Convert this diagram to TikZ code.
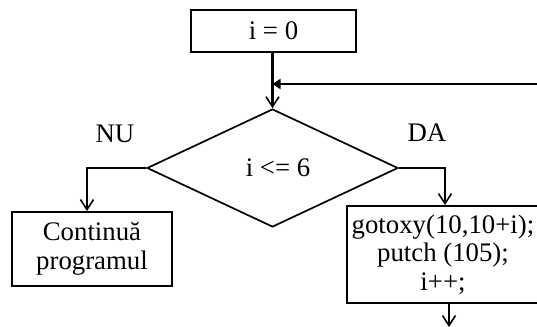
\documentclass[tikz,border=0pt]{standalone}
\usepackage{fontspec}
\setmainfont{Liberation Serif}
\usetikzlibrary{arrows.meta,shapes.geometric}
\begin{document}
\begin{tikzpicture}[x=0.5pt,y=-0.5pt,
  every node/.style={font=\fontsize{13.4}{14.3}\selectfont, inner sep=0pt},
  box/.style={draw, line width=1pt, rectangle, align=center},
  decision/.style={draw, line width=0.85pt, diamond, minimum width=125.5pt, minimum height=59pt},
  flow/.style={line width=1.2pt, -{Straight Barb[length=5pt,width=6.5pt,line width=0.8pt]}},
  back/.style={line width=1.2pt, -{Triangle[length=4pt,width=5pt]}},
  lbl/.style={}]
  \useasboundingbox (0,0) rectangle (537,327);
  \clip (0,0) rectangle (537,327);

  % blocks of the loop
  \node[box, minimum width=82.5pt, minimum height=21pt] (init) at (273.5,31) {i = 0};
  \node[decision] (cond) at (272.5,168) {};
  \node (condtext) at (278,168) {i <= 6};
  \node[box, minimum width=80pt, minimum height=37pt] (done) at (92,249) {Continuă\\programul};
  \node[box, minimum width=96pt, minimum height=48.5pt] (body) at (443,254.5)
    {gotoxy(10,10+i);\\putch (105);\\i++;};

  % branch labels
  \node[lbl] (nu) at (115,134) {NU};
  \node[lbl] (da) at (427,133) {DA};

  % loose ends of the connectors
  \coordinate (loopin) at (537,84);
  \coordinate (join) at (272.5,84);
  \coordinate (out) at (449,327);

  % connectors
  \draw[flow] (init.south -| cond.north) -- (cond.north);
  \draw[back] (loopin) -- (join);
  \draw[flow] (cond.west) -| (done.north -| 87,0);
  \draw[flow] (cond.east) -| (body.north -| 445,0);
  \draw[flow] (body.south -| out) -- (out);
\end{tikzpicture}
\end{document}
